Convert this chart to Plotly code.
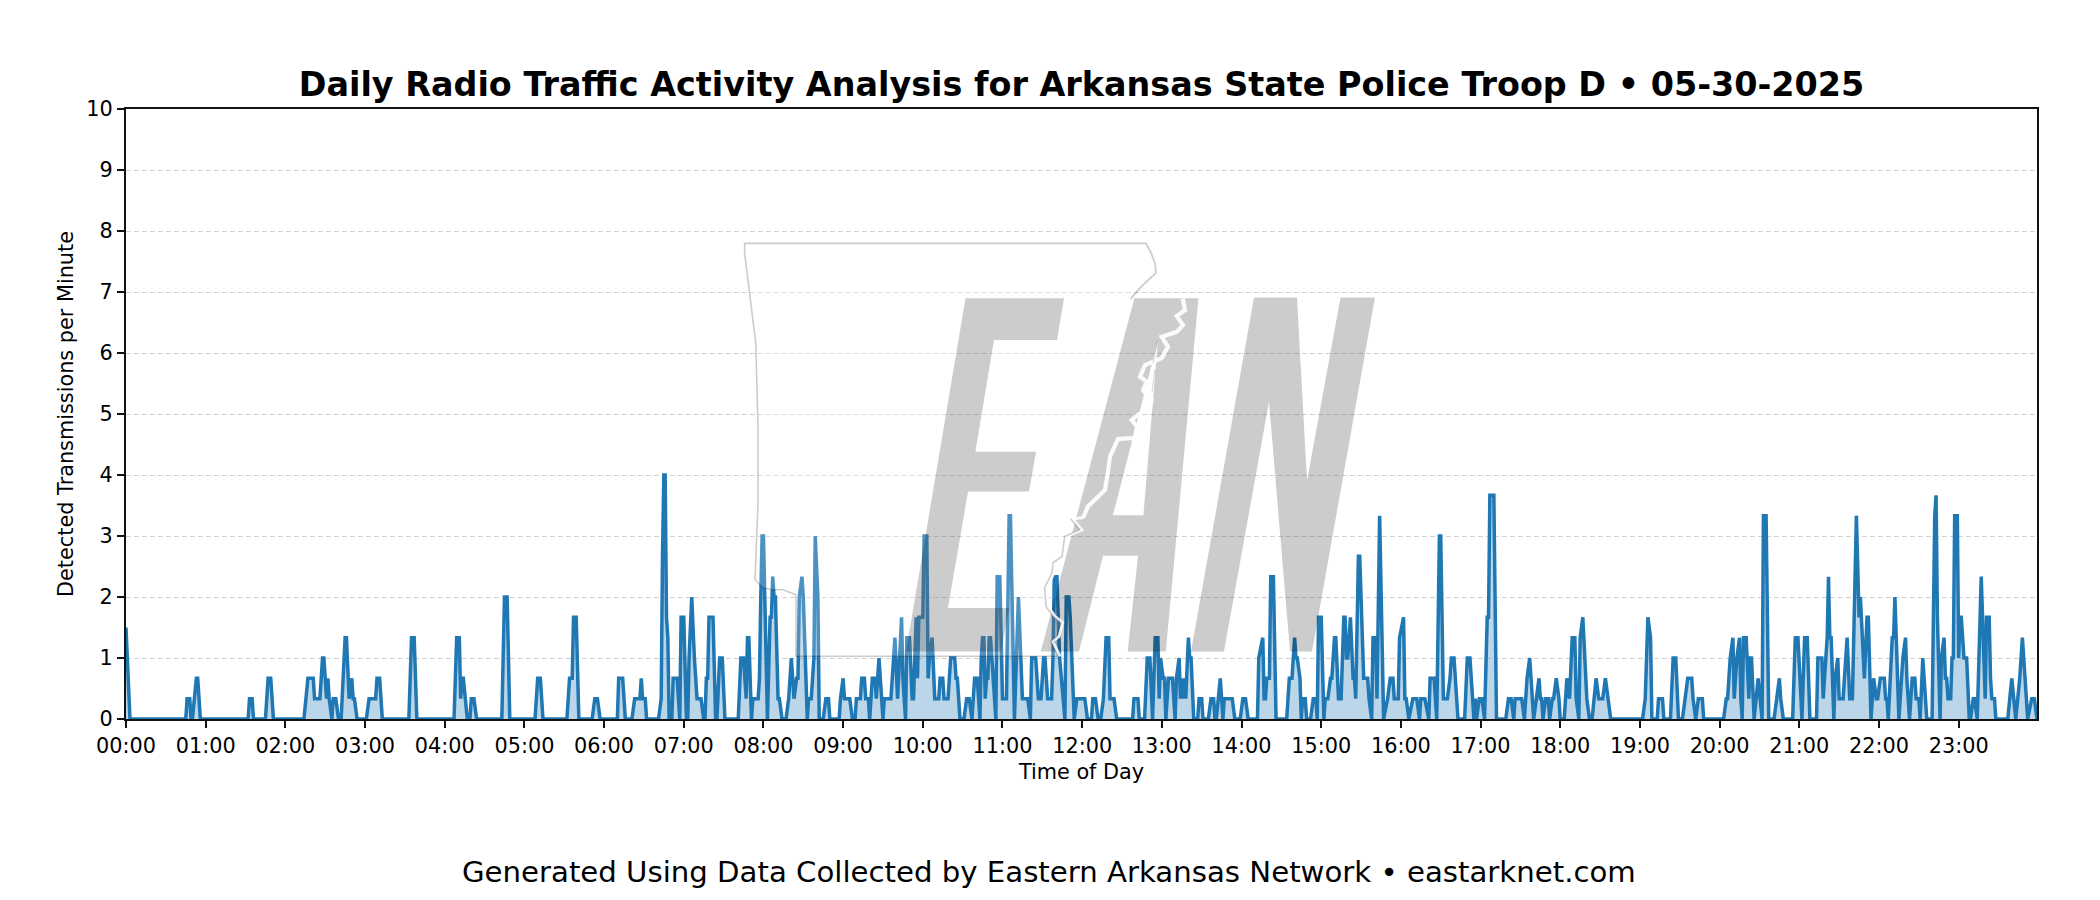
import plotly.graph_objects as go

TITLE = "Daily Radio Traffic Activity Analysis for Arkansas State Police Troop D • 05-30-2025"
FOOTER = "Generated Using Data Collected by Eastern Arkansas Network • eastarknet.com"
X_LABEL = "Time of Day"
Y_LABEL = "Detected Transmissions per Minute"

tick_minutes = [h * 60 for h in range(24)]
tick_labels = [f"{h:02d}:00" for h in range(24)]
y_ticks = list(range(0, 11))

# Line vertices: minute of the day, value in thirds of a transmission
minutes = [
 0,3, 45,46,48,49, 50,53,54,56, 92,93,95,96, 105,107,109,111,
 134,137,141,142,146,148,149,151,152,153,155,156,158,160,162,165,166,168,170,171,172,174,
 181,183,188,189,191,193, 213,215,217,219, 247,249,251,252,253,254,257, 259,260,262,264,
 283,285,287,289, 308,310,312,314, 332,334,336,337,339,341, 351,353,355,357,
 370,371,374,376, 381,383,387,388,389,391,392, 401,403,404,405,406,407,408,409,
 411,412,415,417,418,420,422, 423,424,426,428,430,433,435, 436,437,438,439,442,444, 445,447,449,451,
 461,463,465,467,468,469,471,472,476,477,478,479,480,483,485,486,487,488,489,491,492,494,
 497,499,501,502,503,505,506,507,509,510,513,514,516,518,519,521,522, 525,527,529,530,
 537,538,540,541,545,547, 549,550,553,554,556,557,559,560,
 562,564,565,567,569,570,571,576,579,581,584,585,587,588,590,592,593,595,596,597,600,601,603,604,605,607,609,612,613,615,616,619,621,624,625,626,628,
 631,633,635,637,639,641,643,644,645,646,647,648,649,650,651,653,655,656,658,660,663,665,666,669,672,675,679,681,682,685,687,689,691,692,694,697,698,699,701,703,707,708,710,711,714,
 716,722,724, 727,728,730,732, 734,736,738,740,741,744,746,
 758,759,762,763, 767,769,771,773, 775,777,778,779,781,782,783,785,788,789,790,791,793,794,795,796,797,798,800,801,802,804,
 807,808,810,811, 815,817,819,820, 821,824,826,827,833,835, 839,841,843,845,
 852,853,856,857,858,859,861,862,864,866,
 874,876,878,880,881,882,884,885,886,888,889,892,894,896,897,898,900,902,903,905,907,908,910,911,913,915,917,918,919,920,922,924,925,926,928,929,932,935,936,938,939,941,942,944,947,950,952,954,955,958,959,962,963,964,966,969,972,974,975,978,981,982,985,987,989,990,992,995,997,998,1000,1003,
 1008,1010,1012,1014,1015,1016,1017,1019,1021,1023,1025,1026,1027,1030,1032,
 1039,1041,1043,1045,1046,1051,1053,1055,1057,1060,1062,1064,1065,1066,1067,1069,1071,1072,1074,1075,1077,1079,1080,1083,1085,1087,1089,1091,1092,1094,1095,1097,1100,1102,1104,1107,1109,1112,1114,1116,1118,
 1142,1144,1146,1148,1149, 1153,1154,1157,1158, 1163,1165,1167,1169,
 1172,1174,1176,1179,1180,1182,1184,1187,1188,
 1203,1205,1206,1208,1210,1211,1213,1215,1216,1217,1218,1220,1222,1223,1224,1226,1229,1232,1233,1235,1237,
 1241,1243,1245,1246,1248, 1255,1257,1259,1262,1264,1266,1268,
 1273,1274,1277,1278,1280,1281,1282,1283,1284,1286,1287,1289,1290,1293,1296,1298,1300,1303,1305,1306,1309,1311,1312,1314,1316,1318,1319,1321,1324,1325,1326,1327,1330,1331,1332,1333,1335,1336,1338,1340,1341,1343,1345,1347,1348,1350,1351,1353,1354,1356,
 1360,1362,1363,1364,1366,1367,1369,1370,1371,1372,1374,1375,1376,1377,1379,1380,1381,1382,1384,1386,1388,1389,1391,1392,1394,1397,1400,1401,1403,1404,1405,1407,1408,
 1417,1420,1423,1426,1428,1430,1432,1435,1437,1439,
]
thirds = [
 4.5,0, 0,1,1,0, 0,2,2,0, 0,1,1,0, 0,2,2,0,
 0,2,2,1,1,3,3,1,2,1,0,1,1,0,0,4,4,1,2,1,1,0,
 0,1,1,2,2,0, 0,4,4,0, 0,4,4,1,2,2,0, 0,1,1,0,
 0,6,6,0, 0,2,2,0, 0,2,2,5,5,0, 0,1,1,0,
 0,2,2,0, 0,1,1,2,1,1,0, 0,1,8,12,12,5,4,0,
 0,2,2,0,5,5,0, 0,3,6,3,1,1,0, 0,2,2,5,5,0, 0,3,3,0,
 0,3,3,1,4,4,0,1,1,2,6,9,9,0,5,5,7,6,6,1,1,0,
 0,1,3,2,1,2,2,6,7,6,0,1,1,3,9,6,0, 0,1,1,0,
 0,1,2,1,1,0, 0,1,1,2,2,1,1,0,
 2,2,1,3,1,0,1,1,4,1,5,2,0,4,4,1,1,5,2,5,5,9,9,2,3,4,1,1,2,2,1,1,3,3,2,2,0,
 0,1,1,0,2,2,0,3,4,4,1,2,2,4,4,2,0,7,7,1,1,10,10,0,6,1,1,0,3,3,1,1,3,3,1,1,3,7,7,3,0,6,6,5,0,
 1,1,0, 0,1,1,0, 0,1,4,4,1,1,0,
 0,1,1,0, 0,3,3,0, 4,4,1,3,2,2,0,2,2,1,0,2,3,1,2,1,2,1,4,3,3,0,
 0,1,1,0, 0,1,1,0, 0,2,0,1,1,0, 0,1,1,0,
 0,3,4,1,1,2,2,7,7,0,
 0,2,2,4,3,3,2,0,1,1,0,0,1,1,0,5,5,0,1,1,2,2,4,4,1,1,5,5,3,3,5,2,2,1,8,8,2,2,1,0,4,4,1,10,0,1,2,2,1,1,4,5,1,1,0,1,1,0,1,1,0,2,2,0,9,9,1,1,2,3,3,0,
 0,3,3,1,0,1,0,1,1,0,5,5,11,11,0,
 0,1,1,0,1,1,0,2,3,0,1,2,1,1,0,1,1,0,1,1,2,1,0,0,2,1,4,4,1,0,4,5,1,0,0,2,1,1,2,1,0,
 0,1,5,4,0, 0,1,1,0, 0,3,3,0,
 0,1,2,2,1,0,1,1,0,
 0,1,1,3,4,1,3,4,1,0,4,4,1,3,3,0,2,0,10,10,0,
 0,1,2,1,0, 0,4,4,0,4,4,0,
 0,3,3,1,3,4,7,4,4,0,2,3,1,1,4,1,1,10,5,6,2,5,5,0,2,1,1,2,2,1,1,0,4,4,6,4,0,1,3,4,2,0,2,2,1,1,0,3,2,0,
 0,10,11,5,0,3,4,2,2,1,1,3,3,10,10,3,5,5,3,3,0,0,1,1,0,7,1,5,5,2,1,1,0,
 0,2,0,2,4,2,0,1,1,0,
]

# Watermark drawn in page pixels (not data)
PLOT_L, PLOT_R, PLOT_T, PLOT_B = 126, 2037, 108.5, 719.5
LOGO_E = [(965.5,298),(1064,298),(1057,340),(994,340),(975.4,451.7),(1036,451.7),(1029,491.7),(968,491.7),(948,608.3),(1009,608.3),(1001.3,652),(906,652)]
LOGO_A = [(1134.4,298),(1198.5,298),(1165.8,652),(1127.7,652),(1138,556),(1103,556),(1079,652),(1040.8,652)]
LOGO_A_HOLE = [(1158,340),(1143.4,515.3),(1113,515.3)]
LOGO_N = [(1254,297.3),(1297,297.3),(1307,481),(1340.5,297.3),(1375,297.3),(1312,652),(1290,652),(1269,401.7),(1224,652),(1191,652)]
STATE_NORTH_EAST = [(744.6,243),(1146,243),(1150.7,251.7),(1155,263),(1156,272.7),(1145,283),(1138,290),(1130.7,298.7)]
RIVER_N = [(1182.7,298.3),(1185,310),(1176.7,316),(1183,325),(1176.7,331.7),(1161.7,336.7),(1168,346.7),(1161.7,358),(1145,365),(1140,376.7),(1146.7,381.7),(1143,390),(1151.7,400),(1150,406.7),(1138,415),(1131.7,420),(1137,426.7),(1135,438),(1118,439),(1110,456.7),(1108,471.7),(1105,490),(1088,506.7),(1083,518)]
RIVER_S = [(1072.7,519),(1081.7,530),(1066.7,536.7),(1064,556.7),(1055,563),(1054,573),(1046.7,588),(1048,606.7),(1055,616.7),(1062.7,623),(1059,636.7),(1052.7,641.7),(1060,656.7)]
STATE_SOUTH_WEST = [(796,656.7),(796,595),(783,590),(773,590),(763,588),(755,580),(758,503),(758,427),(755.8,343),(744.6,253)]
THIN_LINES = [[(1157.7,340),(1153,363)],[(1155,369),(1152,392)]]


def px(x):
    return (x - PLOT_L) / (PLOT_R - PLOT_L)


def py(y):
    return (PLOT_B - y) / (PLOT_B - PLOT_T)


def path(points, close=False):
    d = "M" + " L".join(f"{px(x):.5f},{py(y):.5f}" for x, y in points)
    return d + (" Z" if close else "")


def shape(d, fill=None, line=None, width=0):
    s = dict(type="path", path=d, xref="paper", yref="paper", layer="above",
             line=dict(color=line or "rgba(0,0,0,0)", width=width))
    if fill:
        s["fillcolor"] = fill
    return s


GREY = "rgba(0,0,0,0.2)"
shift = lambda pts, dx: [(x + dx, y) for x, y in pts]
state_poly = STATE_NORTH_EAST + RIVER_N + RIVER_S + STATE_SOUTH_WEST
shapes = [
    shape(path(state_poly, True), fill="rgba(255,255,255,0.2)"),
    shape(path(LOGO_E, True), fill=GREY),
    shape(path(LOGO_A, True) + " " + path(LOGO_A_HOLE, True), fill=GREY),
    shape(path(LOGO_N, True), fill=GREY),
    shape(path(RIVER_N), line="rgba(255,255,255,0.92)", width=4.2),
    shape(path(RIVER_N[-1:] + RIVER_S), line="rgba(255,255,255,0.88)", width=3),
    shape(path(STATE_NORTH_EAST), line=GREY, width=1.8),
    shape(path(shift(RIVER_S, -2) + STATE_SOUTH_WEST + STATE_NORTH_EAST[:1]), line=GREY, width=1.6),
]
for seg in THIN_LINES:
    shapes.append(shape(path(seg), line="rgba(0,0,0,0.15)", width=1.2))

fig = go.Figure(go.Scatter(
    x=minutes, y=[t / 3 for t in thirds], mode="lines",
    line=dict(color="#1f77b4", width=3.5),
    fill="tozeroy", fillcolor="rgba(31,119,180,0.3)", hoverinfo="skip",
))

FONT = "DejaVu Sans"
axis_common = dict(
    showline=True, mirror=True, linecolor="#111111", linewidth=2,
    ticks="outside", ticklen=7, tickwidth=2, tickcolor="#111111",
    tickfont=dict(family=FONT, size=20.8, color="black"), zeroline=False,
)
fig.update_layout(
    width=2100, height=900, paper_bgcolor="white", plot_bgcolor="white",
    margin=dict(l=PLOT_L, r=2100 - PLOT_R, t=PLOT_T, b=900 - PLOT_B, autoexpand=False),
    showlegend=False, shapes=shapes,
    font=dict(family=FONT, color="black"),
    title=dict(text=f"<b>{TITLE}</b>", x=0.5, xref="paper", xanchor="center",
               y=1 - 84 / 900, yref="container", yanchor="middle",
               font=dict(family=FONT, size=33.4, color="black")),
    annotations=[dict(text=FOOTER, xref="paper", yref="paper", x=px(1049),
                      y=py(873), xanchor="center", yanchor="middle", showarrow=False,
                      font=dict(family=FONT, size=29.2, color="black"))],
    xaxis=dict(range=[0, 1439], tickmode="array", tickvals=tick_minutes, ticktext=tick_labels,
               showgrid=False, title=dict(text=X_LABEL, font=dict(family=FONT, size=20.8), standoff=7),
               **axis_common),
    yaxis=dict(range=[0, 10], tickmode="array", tickvals=y_ticks,
               showgrid=True, gridcolor="rgba(128,128,128,0.36)", gridwidth=1, griddash="5px,3px",
               title=dict(text=Y_LABEL, font=dict(family=FONT, size=20.8), standoff=7),
               **axis_common),
)
assert len(minutes) == len(thirds)
fig.write_html("out.html", config=dict(displayModeBar=False),
               post_script="document.body.style.margin='0';document.body.style.overflow='hidden';")
